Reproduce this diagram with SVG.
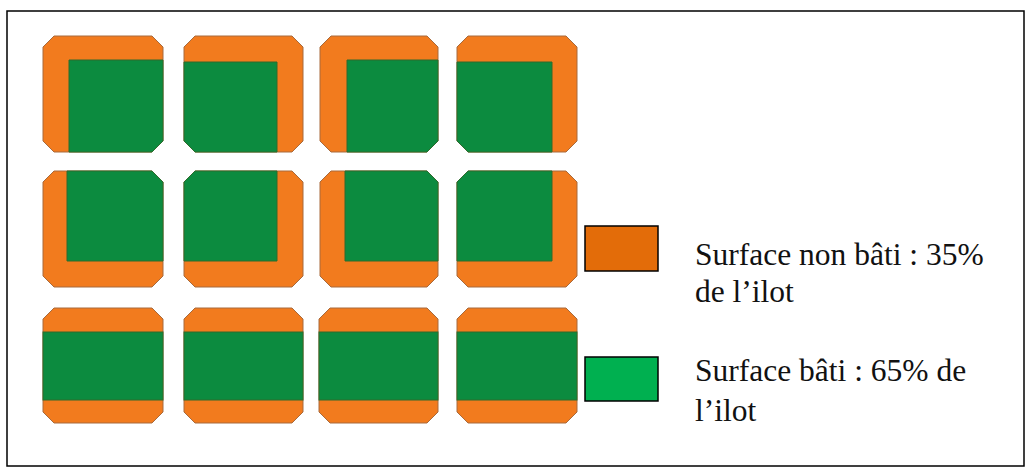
<svg xmlns="http://www.w3.org/2000/svg" width="1031" height="475" viewBox="0 0 1031 475">
<style>
.ilot{fill:#F27B1E;stroke:#A86A3C;stroke-width:1}
.bati{fill:#0C8B3F;stroke:#2F6B2C;stroke-width:1}
.frame{fill:#fff;stroke:#000;stroke-width:1.5}
.lg{stroke:#000;stroke-width:1.5}
.t{font-family:"Liberation Serif","Times New Roman",serif;font-size:31.5px;fill:#111}
</style>
<rect class="frame" x="7" y="11" width="1017" height="455"/>
<g id="grid">
<!-- Row 1 -->
<g id="ilot1">
<path class="ilot" d="M54,36 H152 L163,47 V141 L152,152 H54 L43,141 V47 Z"/>
<path class="bati" d="M69,60 H163 V141 L152,152 H69 Z"/>
</g>
<g id="ilot2">
<path class="ilot" d="M195,36 H292 L303,47 V141 L292,152 H195 L184,141 V47 Z"/>
<path class="bati" d="M184,62 H277 V152 H195 L184,141 Z"/>
</g>
<g id="ilot3">
<path class="ilot" d="M331,36 H427 L438,47 V141 L427,152 H331 L320,141 V47 Z"/>
<path class="bati" d="M347,60 H438 V141 L427,152 H347 Z"/>
</g>
<g id="ilot4">
<path class="ilot" d="M468,36 H566 L577,47 V141 L566,152 H468 L457,141 V47 Z"/>
<path class="bati" d="M457,62 H552 V152 H468 L457,141 Z"/>
</g>
<!-- Row 2 -->
<g id="ilot5">
<path class="ilot" d="M54,171 H152 L163,182 V276 L152,287 H54 L43,276 V182 Z"/>
<path class="bati" d="M67,171 H152 L163,182 V261 H67 Z"/>
</g>
<g id="ilot6">
<path class="ilot" d="M195,171 H292 L303,182 V276 L292,287 H195 L184,276 V182 Z"/>
<path class="bati" d="M195,171 H277 V261 H184 V182 Z"/>
</g>
<g id="ilot7">
<path class="ilot" d="M331,171 H427 L438,182 V276 L427,287 H331 L320,276 V182 Z"/>
<path class="bati" d="M345,171 H427 L438,182 V261 H345 Z"/>
</g>
<g id="ilot8">
<path class="ilot" d="M468,171 H566 L577,182 V276 L566,287 H468 L457,276 V182 Z"/>
<path class="bati" d="M468,171 H552 V261 H457 V182 Z"/>
</g>
<!-- Row 3 -->
<g id="ilot9">
<path class="ilot" d="M54,308 H152 L163,319 V412 L152,423 H54 L43,412 V319 Z"/>
<rect class="bati" x="43" y="332" width="120" height="68"/>
</g>
<g id="ilot10">
<path class="ilot" d="M195,308 H292 L303,319 V412 L292,423 H195 L184,412 V319 Z"/>
<rect class="bati" x="184" y="332" width="119" height="68"/>
</g>
<g id="ilot11">
<path class="ilot" d="M330,308 H427 L438,319 V412 L427,423 H330 L319,412 V319 Z"/>
<rect class="bati" x="319" y="332" width="119" height="68"/>
</g>
<g id="ilot12">
<path class="ilot" d="M468,308 H566 L577,319 V412 L566,423 H468 L457,412 V319 Z"/>
<rect class="bati" x="457" y="332" width="120" height="68"/>
</g>
</g>
<g id="legend-non-bati">
<rect class="lg" x="585" y="226" width="73" height="45" fill="#E36C09"/>
<text class="t" x="695" y="265">Surface non bâti : 35%</text>
<text class="t" x="695" y="302">de l’ilot</text>
</g>
<g id="legend-bati">
<rect class="lg" x="585" y="357" width="73" height="44" fill="#00B050"/>
<text class="t" x="695" y="381">Surface bâti : 65% de</text>
<text class="t" x="695" y="421">l’ilot</text>
</g>
<g id="connectors"/>
</svg>
